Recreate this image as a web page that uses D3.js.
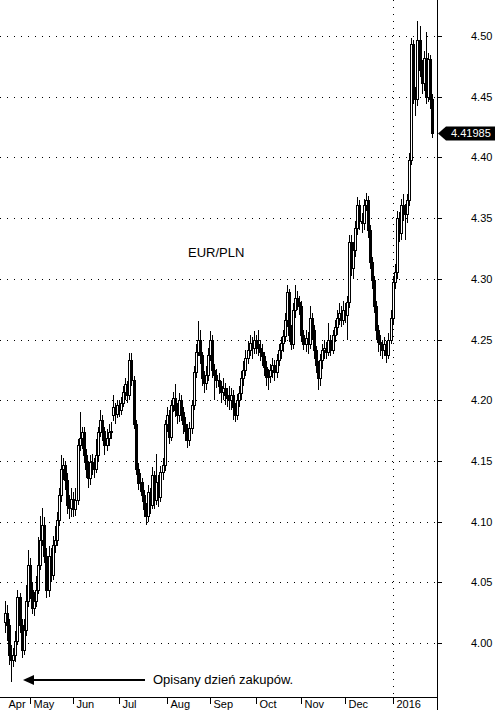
<!DOCTYPE html>
<meta charset="utf-8">
<script src="https://d3js.org/d3.v7.min.js"></script>
<style>
  body { margin: 0; background: #fff; }
  text { font-family: "Liberation Sans", Arial, sans-serif; }
</style>
<div id="chart"></div>
<script>
    // daily EUR/PLN candles, 15 Apr 2015 onwards
    const open = [
        4.017,4.025,4.015,3.990,3.986,3.990,4.002,4.038,4.015,3.994,
        4.011,4.035,4.064,4.044,4.029,4.035,4.044,4.064,4.085,4.097,
        4.072,4.044,4.072,4.056,4.081,4.085,4.101,4.122,4.143,4.147,
        4.134,4.114,4.111,4.119,4.110,4.118,4.163,4.169,4.174,4.155,
        4.143,4.136,4.149,4.147,4.143,4.155,4.174,4.184,4.175,4.163,
        4.169,4.174,4.188,4.194,4.189,4.196,4.192,4.198,4.207,4.213,
        4.204,4.233,4.217,4.180,4.143,4.132,4.133,4.122,4.110,4.105,
        4.124,4.114,4.138,4.118,4.133,4.120,4.141,4.147,4.180,4.188,
        4.170,4.196,4.202,4.192,4.188,4.200,4.190,4.180,4.175,4.167,
        4.177,4.196,4.223,4.240,4.250,4.237,4.218,4.214,4.221,4.237,
        4.250,4.225,4.221,4.217,4.212,4.207,4.210,4.204,4.202,4.200,
        4.204,4.194,4.188,4.200,4.206,4.218,4.225,4.235,4.241,4.247,
        4.243,4.250,4.246,4.243,4.240,4.236,4.227,4.219,4.220,4.225,
        4.229,4.223,4.233,4.241,4.247,4.253,4.266,4.289,4.254,4.246,
        4.274,4.284,4.281,4.278,4.254,4.246,4.251,4.246,4.268,4.258,
        4.241,4.229,4.218,4.233,4.241,4.243,4.240,4.250,4.241,4.254,
        4.260,4.268,4.272,4.266,4.274,4.270,4.281,4.330,4.309,4.324,
        4.342,4.361,4.348,4.346,4.361,4.365,4.340,4.314,4.299,4.278,
        4.258,4.248,4.246,4.241,4.246,4.237,4.250,4.268,4.297,4.306,
        4.350,4.338,4.361,4.357,4.353,4.365,4.398,4.493,4.451,4.448,
        4.497,4.472,4.461,4.482,4.450,4.481,4.448
    ];
    const high = [
        4.035,4.031,4.020,3.998,3.996,4.010,4.044,4.041,4.020,4.020,
        4.048,4.077,4.070,4.050,4.042,4.055,4.087,4.105,4.111,4.104,
        4.078,4.080,4.078,4.088,4.096,4.108,4.128,4.155,4.152,4.150,
        4.140,4.122,4.128,4.124,4.128,4.168,4.190,4.178,4.178,4.160,
        4.150,4.155,4.156,4.152,4.168,4.178,4.192,4.188,4.178,4.176,
        4.180,4.182,4.204,4.198,4.200,4.199,4.203,4.212,4.218,4.216,
        4.239,4.239,4.220,4.184,4.148,4.140,4.136,4.126,4.115,4.130,
        4.128,4.145,4.142,4.156,4.138,4.146,4.152,4.184,4.194,4.192,
        4.200,4.207,4.213,4.198,4.206,4.204,4.194,4.186,4.180,4.182,
        4.200,4.228,4.246,4.265,4.258,4.240,4.224,4.228,4.243,4.257,
        4.254,4.230,4.226,4.222,4.216,4.218,4.214,4.210,4.212,4.210,
        4.208,4.198,4.205,4.212,4.224,4.232,4.241,4.249,4.254,4.252,
        4.257,4.254,4.258,4.250,4.246,4.240,4.232,4.226,4.230,4.235,
        4.233,4.238,4.246,4.252,4.258,4.272,4.295,4.292,4.262,4.280,
        4.295,4.290,4.286,4.282,4.258,4.258,4.256,4.278,4.272,4.262,
        4.245,4.232,4.238,4.246,4.250,4.248,4.264,4.254,4.258,4.266,
        4.274,4.280,4.278,4.282,4.280,4.286,4.336,4.336,4.330,4.348,
        4.367,4.365,4.354,4.366,4.371,4.368,4.344,4.318,4.302,4.282,
        4.262,4.254,4.250,4.252,4.249,4.255,4.274,4.302,4.312,4.356,
        4.355,4.366,4.370,4.362,4.370,4.404,4.498,4.497,4.458,4.512,
        4.508,4.480,4.488,4.503,4.486,4.484,4.452
    ];
    const low = [
        4.008,4.002,3.982,3.968,3.980,3.984,3.998,4.008,3.988,3.990,
        4.006,4.030,4.036,4.024,4.022,4.030,4.040,4.060,4.080,4.066,
        4.037,4.038,4.050,4.052,4.074,4.080,4.096,4.116,4.134,4.126,
        4.106,4.102,4.104,4.104,4.105,4.114,4.158,4.160,4.148,4.136,
        4.128,4.130,4.138,4.136,4.140,4.150,4.170,4.166,4.155,4.158,
        4.162,4.168,4.183,4.180,4.185,4.186,4.188,4.194,4.200,4.198,
        4.200,4.212,4.176,4.138,4.126,4.124,4.116,4.104,4.097,4.100,
        4.106,4.110,4.110,4.114,4.112,4.116,4.134,4.142,4.174,4.164,
        4.166,4.190,4.186,4.180,4.182,4.183,4.172,4.166,4.161,4.162,
        4.172,4.192,4.218,4.236,4.230,4.212,4.206,4.208,4.216,4.232,
        4.218,4.200,4.210,4.205,4.198,4.200,4.196,4.194,4.192,4.192,
        4.184,4.182,4.184,4.194,4.200,4.212,4.220,4.230,4.236,4.234,
        4.238,4.238,4.236,4.232,4.228,4.220,4.212,4.208,4.214,4.218,
        4.216,4.218,4.228,4.234,4.240,4.248,4.260,4.248,4.241,4.242,
        4.268,4.274,4.270,4.248,4.241,4.240,4.238,4.242,4.250,4.234,
        4.222,4.208,4.212,4.226,4.234,4.234,4.236,4.236,4.238,4.248,
        4.254,4.262,4.260,4.262,4.264,4.250,4.276,4.302,4.300,4.318,
        4.336,4.340,4.338,4.340,4.356,4.334,4.308,4.292,4.272,4.250,
        4.240,4.236,4.234,4.236,4.231,4.234,4.246,4.262,4.292,4.300,
        4.330,4.332,4.348,4.332,4.346,4.360,4.394,4.444,4.434,4.442,
        4.466,4.452,4.455,4.444,4.446,4.440,4.416
    ];
    const close = [
        4.025,4.015,3.990,3.986,3.990,4.002,4.038,4.015,3.994,4.011,
        4.035,4.064,4.044,4.029,4.035,4.044,4.064,4.085,4.097,4.072,
        4.044,4.072,4.056,4.081,4.085,4.101,4.122,4.143,4.147,4.134,
        4.114,4.111,4.119,4.110,4.118,4.163,4.169,4.174,4.155,4.143,
        4.136,4.149,4.147,4.143,4.155,4.174,4.184,4.175,4.163,4.169,
        4.174,4.175,4.194,4.189,4.196,4.192,4.198,4.207,4.213,4.204,
        4.233,4.217,4.180,4.143,4.132,4.133,4.122,4.110,4.105,4.124,
        4.114,4.138,4.118,4.133,4.120,4.141,4.147,4.180,4.188,4.170,
        4.196,4.202,4.192,4.188,4.200,4.190,4.180,4.175,4.167,4.177,
        4.196,4.223,4.240,4.250,4.237,4.218,4.214,4.221,4.237,4.250,
        4.225,4.221,4.217,4.212,4.207,4.210,4.204,4.202,4.200,4.204,
        4.194,4.188,4.200,4.206,4.218,4.225,4.235,4.241,4.247,4.243,
        4.250,4.246,4.243,4.240,4.236,4.227,4.219,4.220,4.225,4.229,
        4.223,4.233,4.241,4.247,4.253,4.266,4.289,4.254,4.246,4.274,
        4.284,4.281,4.278,4.254,4.246,4.251,4.246,4.268,4.258,4.241,
        4.229,4.218,4.233,4.241,4.243,4.240,4.250,4.241,4.254,4.260,
        4.268,4.272,4.266,4.274,4.270,4.281,4.330,4.309,4.324,4.342,
        4.361,4.348,4.346,4.361,4.365,4.340,4.314,4.299,4.278,4.258,
        4.248,4.246,4.241,4.246,4.237,4.250,4.268,4.297,4.306,4.350,
        4.338,4.361,4.357,4.353,4.365,4.398,4.493,4.451,4.448,4.497,
        4.472,4.461,4.482,4.450,4.481,4.448,4.41985
    ];

    const yTicks = [4.00, 4.05, 4.10, 4.15, 4.20, 4.25, 4.30, 4.35, 4.40, 4.45, 4.50];
    const monthLabels = ["Apr", "May", "Jun", "Jul", "Aug", "Sep", "Oct", "Nov", "Dec", "2016"];
    const firstDay = "2015-04-15";
    const title = "EUR/PLN";
    const note = "Opisany dzień zakupów.";
    const noteDay = 3;   // candle the arrow points at

    const W = 495, H = 710;
    const plotRight = 437, plotBottom = 697;

    // trading days (Mon-Fri) starting from firstDay
    const start = new Date(firstDay + "T00:00:00Z");
    const days = d3.utcDay.range(start, d3.utcDay.offset(start, 400))
        .filter(d => d.getUTCDay() % 6 !== 0)
        .slice(0, close.length);

    const x = d3.scaleLinear()
        .domain([0, close.length - 1])
        .range([5, 432]);
    const y = d3.scaleLinear()
        .domain([4.00, 4.50])
        .range([643, 36]);

    const svg = d3.select("#chart")
      .append("svg")
        .attr("width", W)
        .attr("height", H)
        .style("display", "block");

    // month boundaries
    const monthStarts = [0];
    days.forEach((d, i) => {
        if (i > 0 && d.getUTCMonth() !== days[i - 1].getUTCMonth()) monthStarts.push(i);
    });

    // dotted grid
    svg.append("g")
        .selectAll("line")
        .data(yTicks)
        .join("line")
            .attr("x1", 0)
            .attr("x2", plotRight)
            .attr("y1", d => Math.round(y(d)) + 0.5)
            .attr("y2", d => Math.round(y(d)) + 0.5)
            .attr("stroke", "#000")
            .attr("stroke-dasharray", "1,6");

    // dotted line at year change
    const yearIdx = monthStarts.find(i => days[i].getUTCMonth() === 0);
    svg.append("line")
        .attr("x1", Math.round(x(yearIdx)) + 0.5)
        .attr("x2", Math.round(x(yearIdx)) + 0.5)
        .attr("y1", 0)
        .attr("y2", plotBottom)
        .attr("stroke", "#000")
        .attr("stroke-dasharray", "1,6");

    // candles
    const candles = svg.append("g")
        .attr("shape-rendering", "crispEdges")
        .selectAll("g")
        .data(close.map((c, i) => ({i, o: open[i], h: high[i], l: low[i], c})))
        .join("g");

    candles.append("line")
        .attr("x1", d => Math.round(x(d.i)) + 0.5)
        .attr("x2", d => Math.round(x(d.i)) + 0.5)
        .attr("y1", d => Math.round(y(d.h)))
        .attr("y2", d => Math.round(y(d.l)))
        .attr("stroke", "#000");

    candles.append("rect")
        .attr("x", d => Math.round(x(d.i)) - 1 + 0.5)
        .attr("width", 2)
        .attr("y", d => Math.round(y(Math.max(d.o, d.c))) + 0.5)
        .attr("height", d => Math.max(1, Math.round(y(Math.min(d.o, d.c))) - Math.round(y(Math.max(d.o, d.c)))))
        .attr("fill", d => d.c >= d.o ? "#fff" : "#000")
        .attr("stroke", "#000");

    // right axis
    const yAxis = svg.append("g")
        .attr("transform", `translate(${plotRight},0)`);
    yAxis.append("line")
        .attr("x1", 0.5).attr("x2", 0.5)
        .attr("y1", 0).attr("y2", H)
        .attr("stroke", "#000");
    const yt = yAxis.selectAll("g.tick")
        .data(yTicks)
        .join("g")
            .attr("class", "tick")
            .attr("transform", d => `translate(0,${Math.round(y(d)) + 0.5})`);
    yt.append("line")
        .attr("x1", 0).attr("x2", 5)
        .attr("stroke", "#000");
    yt.append("text")
        .attr("x", 34)
        .attr("dy", "0.35em")
        .attr("font-size", 11)
        .text(d => d3.format(".2f")(d));

    // bottom axis
    const xAxis = svg.append("g")
        .attr("transform", `translate(0,${plotBottom})`);
    xAxis.append("line")
        .attr("x1", 0).attr("x2", plotRight)
        .attr("y1", 0.5).attr("y2", 0.5)
        .attr("stroke", "#000");
    const xt = xAxis.selectAll("g.tick")
        .data(monthStarts)
        .join("g")
            .attr("class", "tick")
            .attr("transform", i => `translate(${Math.round(x(i)) + 0.5},0)`);
    xt.filter(i => i > 0).append("line")
        .attr("y1", 0).attr("y2", 7)
        .attr("stroke", "#000");
    xt.append("text")
        .attr("x", 3)
        .attr("y", 11)
        .attr("font-size", 11)
        .text((i, k) => monthLabels[k]);

    // last price callout
    const last = close[close.length - 1];
    const ly = Math.round(y(last)) + 0.5;
    svg.append("path")
        .attr("d", `M${plotRight + 1},${ly} L${plotRight + 9},${ly - 7} L${W},${ly - 7} L${W},${ly + 7} L${plotRight + 9},${ly + 7} Z`)
        .attr("fill", "#000");
    svg.append("text")
        .attr("x", plotRight + 14)
        .attr("y", ly)
        .attr("dy", "0.35em")
        .attr("font-size", 11)
        .attr("fill", "#fff")
        .text(d3.format(".5f")(last));

    // title inside plot
    svg.append("text")
        .attr("x", 188)
        .attr("y", 257)
        .attr("font-size", 13)
        .text(title);

    // arrow annotation
    const ax = Math.round(x(noteDay)) + 12, ay = 680;
    svg.append("line")
        .attr("x1", ax + 8).attr("x2", 145)
        .attr("y1", ay).attr("y2", ay)
        .attr("stroke", "#000")
        .attr("stroke-width", 2);
    svg.append("path")
        .attr("d", `M${ax},${ay} L${ax + 11},${ay - 5} L${ax + 11},${ay + 5} Z`)
        .attr("fill", "#000");
    svg.append("text")
        .attr("x", 153)
        .attr("y", ay + 4)
        .attr("font-size", 13)
        .text(note);
</script>
